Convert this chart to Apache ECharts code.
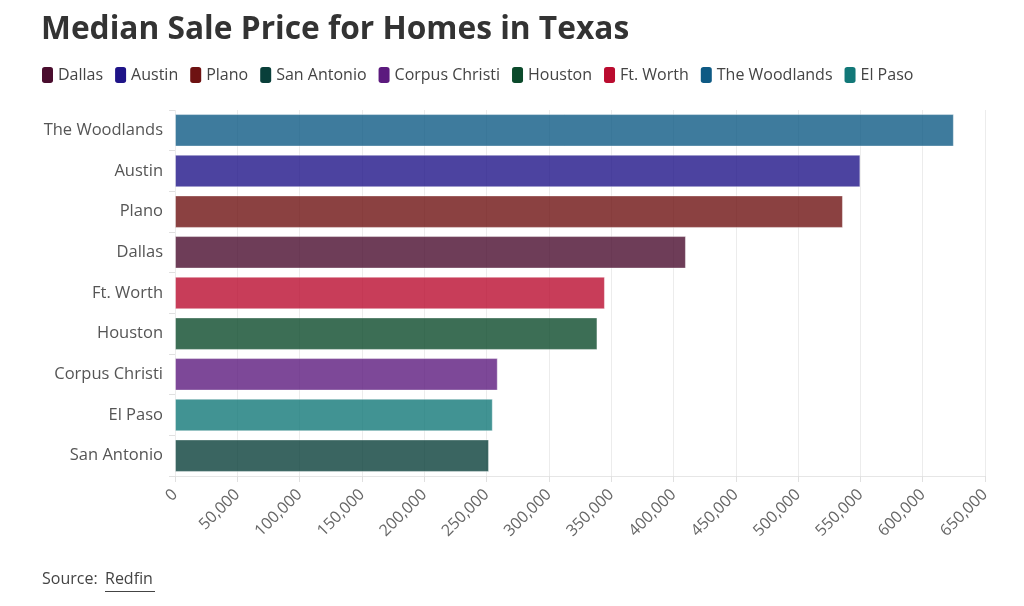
<!DOCTYPE html>
<html>
<head>
<meta charset="utf-8">
<script src="https://cdn.jsdelivr.net/npm/echarts@6/dist/echarts.min.js"></script>
<style>
  html, body { margin: 0; padding: 0; background: #fff; }
  #main { width: 1024px; height: 606px; }
</style>
</head>
<body>
<div id="main"></div>
<script>
    // categories top to bottom, as on the picture
    var cities = ['The Woodlands', 'Austin', 'Plano', 'Dallas', 'Ft. Worth', 'Houston', 'Corpus Christi', 'El Paso', 'San Antonio'];
    var prices = [625000, 550000, 536000, 410000, 345000, 339000, 259000, 255000, 252000];

    // legend order and colours
    var legendOrder = ['Dallas', 'Austin', 'Plano', 'San Antonio', 'Corpus Christi', 'Houston', 'Ft. Worth', 'The Woodlands', 'El Paso'];
    var legendColors = ['#4a0d2e', '#1f1488', '#6e1212', '#093f3a', '#5c1a7e', '#0b4a2b', '#ba0c2f', '#0e5a84', '#127878'];

    var fontName = '"Open Sans", "Noto Sans", sans-serif';

    var chart = echarts.init(document.getElementById('main'));

    var series = legendOrder.map(function (name, i) {
        return {
            name: name,
            type: 'bar',
            stack: 'all',
            barCategoryGap: '20%',
            itemStyle: {
                color: legendColors[i],
                opacity: 0.8,
                borderColor: 'rgba(255,255,255,0.5)',
                borderWidth: 1
            },
            emphasis: { disabled: true },
            data: cities.map(function (c, j) { return c === name ? prices[j] : null; })
        };
    });

    var option = {
        backgroundColor: '#fff',
        animation: false,
        title: {
            text: 'Median Sale Price for Homes in Texas',
            left: 36,
            top: 9,
            textStyle: { fontFamily: fontName, fontSize: 31.7, fontWeight: 'bold', color: '#333' }
        },
        legend: {
            left: 37,
            top: 62,
            itemWidth: 11,
            itemHeight: 16,
            itemGap: 12,
            icon: 'roundRect',
            itemStyle: { opacity: 1, borderWidth: 0 },
            data: legendOrder,
            textStyle: { fontFamily: fontName, fontSize: 16, color: '#444' }
        },
        grid: { left: 175, right: 39, top: 110, bottom: 130 },
        xAxis: {
            type: 'value',
            min: 0,
            max: 650000,
            interval: 50000,
            axisLine: { show: true, lineStyle: { color: '#e6e6e6' } },
            axisTick: { show: true, length: 6, lineStyle: { color: '#e0e0e0' } },
            splitLine: { lineStyle: { color: '#ececec' } },
            axisLabel: {
                rotate: 45,
                margin: 16,
                color: '#666',
                fontFamily: fontName,
                fontSize: 16,
                formatter: function (v) { return v.toLocaleString('en-US'); }
            }
        },
        yAxis: {
            type: 'category',
            inverse: true,
            data: cities,
            axisLine: { show: false },
            axisTick: { show: true, length: 6, lineStyle: { color: '#e0e0e0' } },
            axisLabel: { color: '#555', fontFamily: fontName, fontSize: 16.5, margin: 12 }
        },
        series: series,
        graphic: [
            {
                type: 'text', left: 42, top: 571,
                style: { text: 'Source:', fill: '#444', font: '16px ' + fontName }
            },
            {
                type: 'text', left: 105, top: 571,
                style: { text: 'Redfin', fill: '#444', font: '16px ' + fontName }
            },
            {
                type: 'rect', left: 105, top: 591,
                shape: { width: 50, height: 1 },
                style: { fill: '#444' }
            }
        ]
    };

    chart.setOption(option);
</script>
</body>
</html>
